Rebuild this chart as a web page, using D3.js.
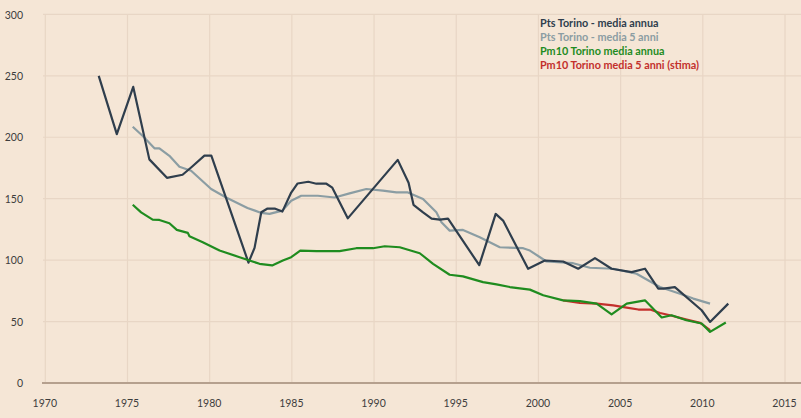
<!DOCTYPE html>
<html>
<head>
<meta charset="utf-8">
<script src="https://cdn.jsdelivr.net/npm/d3@7"></script>
<style>
  html, body { margin: 0; padding: 0; background: #f5e6d6; }
  svg { display: block; }
  text { font-family: Lato, "Open Sans", sans-serif; }
</style>
</head>
<body>
<svg id="chart" width="801" height="418"></svg>
<script>
// ---------- data ----------
const xTicks = [1970, 1975, 1980, 1985, 1990, 1995, 2000, 2005, 2010, 2015];
const yTicks = [0, 50, 100, 150, 200, 250, 300];

const seriesNames = [
  "Pts Torino - media annua",
  "Pts Torino - media 5 anni",
  "Pm10 Torino media annua",
  "Pm10 Torino media 5 anni (stima)"
];

// [year, value]
const ptsAnnual = [
  [1973.25,250],[1974.35,202.5],[1975.35,241],[1976.33,182],[1977.4,167],[1978.35,169.5],
  [1978.87,175.4],[1979.68,185],[1980.1,185],[1982.36,98],[1982.73,110],[1983.14,139],
  [1983.52,142],[1983.95,142],[1984.42,139.5],[1984.96,155],[1985.35,162.4],[1986.0,163.8],
  [1986.49,162.2],[1987.1,162.2],[1987.46,159],[1988.4,134],[1991.44,181.6],[1992.1,163],
  [1992.4,145],[1992.96,139],[1993.5,133.8],[1994.0,133],[1994.5,133.8],[1996.4,95.9],
  [1997.4,137.6],[1997.85,132.2],[1999.37,93],[2000.39,99.7],[2001.5,98.9],[2002.42,93],
  [2003.44,101.6],[2004.45,93],[2005.67,90.2],[2006.48,93],[2007.29,76.8],[2007.6,76.8],
  [2008.3,78],[2009.93,59.2],[2010.44,49.7],[2011.55,64.6]
];

const pts5y = [
  [1975.32,208.6],[1975.93,201],[1976.64,191],[1976.94,191],[1977.55,184.9],[1978.16,176],
  [1978.87,172.7],[1980.09,157.9],[1981.0,151],[1982.3,142.5],[1983.14,138.4],[1983.64,137.6],
  [1984.42,140.3],[1984.96,148.4],[1985.57,152.4],[1986.58,152.4],[1987.6,151],[1988.51,154.3],
  [1989.53,157.9],[1990.54,156.5],[1991.36,155.1],[1992.06,155.1],[1992.98,149.8],[1993.79,138.9],
  [1994.1,130.8],[1994.6,124],[1995.41,124.6],[1996.43,118.6],[1997.65,110.5],[1999.07,109.7],
  [1999.48,107.8],[2000.49,98.9],[2002.11,97.5],[2003.13,93.8],[2004.55,93],[2005.97,88.9],
  [2007.39,78.1],[2008.61,72.7],[2009.42,68.7],[2010.44,64.6]
];

const pm10Annual = [
  [1975.32,145.1],[1975.83,138.9],[1976.53,133],[1976.94,132.7],[1977.55,130],[1978.0,124.6],
  [1978.67,122.2],[1978.77,119.4],[1979.58,114.6],[1980.6,107.8],[1981.82,102.4],[1983.03,97],
  [1983.8,95.7],[1984.45,99.7],[1984.96,102.4],[1985.51,107.8],[1986.49,107.3],[1987.9,107.3],
  [1988.92,109.7],[1989.93,109.7],[1990.65,111.3],[1991.56,110.5],[1992.78,105.6],[1993.59,97],
  [1994.6,88.1],[1995.41,86.8],[1996.63,82.1],[1997.45,80.3],[1998.26,78.1],[1999.48,76],
  [2000.29,71.4],[2001.5,67.3],[2002.52,66.7],[2003.54,64.6],[2004.45,55.9],[2005.37,64.6],
  [2006.48,67.3],[2007.5,53.3],[2008.1,55.1],[2009.0,51.1],[2009.93,48.4],[2010.44,41.6],
  [2011.4,49.2]
];

const pm105y = [
  [2001.5,67.3],[2002.52,65.1],[2003.54,64.6],[2004.55,63.2],[2005.37,61.4],[2006.08,59.8],
  [2006.79,59.8],[2007.4,57],[2008.0,55.1],[2009.02,51.6],[2009.84,48.9],[2010.44,43]
];

// ---------- styles ----------
const colors = ["#2f3e4d", "#8b9da3", "#1f8c1f", "#c3302c"];

const svg = d3.select("#chart");
const W = 801, H = 418;

svg.append("rect").attr("width", W).attr("height", H).attr("fill", "#f5e6d6");

const x = d3.scaleLinear().domain([1970, 2015]).range([45.3, 785]);
const y = d3.scaleLinear().domain([0, 300]).range([383, 14.4]);

// gridlines
const grid = svg.append("g");
grid.selectAll("line.h").data(yTicks.filter(d => d > 0)).join("line")
  .attr("x1", 43).attr("x2", W)
  .attr("y1", d => y(d)).attr("y2", d => y(d))
  .attr("stroke", "#e8d6c5").attr("stroke-width", 1.2);
grid.selectAll("line.v").data(xTicks).join("line")
  .attr("x1", d => x(d)).attr("x2", d => x(d))
  .attr("y1", y(300)).attr("y2", y(0))
  .attr("stroke", "#e8d6c5").attr("stroke-width", 1.2);

// axis baseline
svg.append("line")
  .attr("x1", 42).attr("x2", W)
  .attr("y1", y(0)).attr("y2", y(0))
  .attr("stroke", "#b5a08e").attr("stroke-width", 2);

// y labels
const yAxis = d3.axisLeft(y).tickValues(yTicks).tickSize(0).tickPadding(0);
const gy = svg.append("g").attr("transform", "translate(23,0)").call(yAxis);
gy.select(".domain").remove();
gy.selectAll("text").attr("fill", "#3d3d3d").style("font-size", "10.5px")
  .style("font-family", "Lato, 'Open Sans', sans-serif").attr("dy", "0.35em");

// x labels
const xAxis = d3.axisBottom(x).tickValues(xTicks).tickFormat(d3.format("d")).tickSize(0).tickPadding(0);
const gx = svg.append("g").attr("transform", "translate(-1,400)").call(xAxis);
gx.select(".domain").remove();
gx.selectAll("text").attr("fill", "#3d3d3d").style("font-size", "10.5px")
  .style("font-family", "Lato, 'Open Sans', sans-serif");

// lines
const line = d3.line().x(d => x(d[0])).y(d => y(d[1]));
const drawOrder = [
  [pts5y, colors[1]],
  [ptsAnnual, colors[0]],
  [pm105y, colors[3]],
  [pm10Annual, colors[2]]
];
drawOrder.forEach(([data, c]) => {
  svg.append("path").datum(data)
    .attr("d", line)
    .attr("fill", "none")
    .attr("stroke", c)
    .attr("stroke-width", 2.2)
    .attr("stroke-linejoin", "round");
});

// legend
const lg = svg.append("g").attr("transform", "translate(540,26.5)");
lg.selectAll("text").data(seriesNames).join("text")
  .attr("x", 0).attr("y", (d, i) => i * 14)
  .attr("fill", (d, i) => colors[i])
  .style("font-size", "10.8px").style("font-weight", "bold")
  .text(d => d);
</script>
</body>
</html>
